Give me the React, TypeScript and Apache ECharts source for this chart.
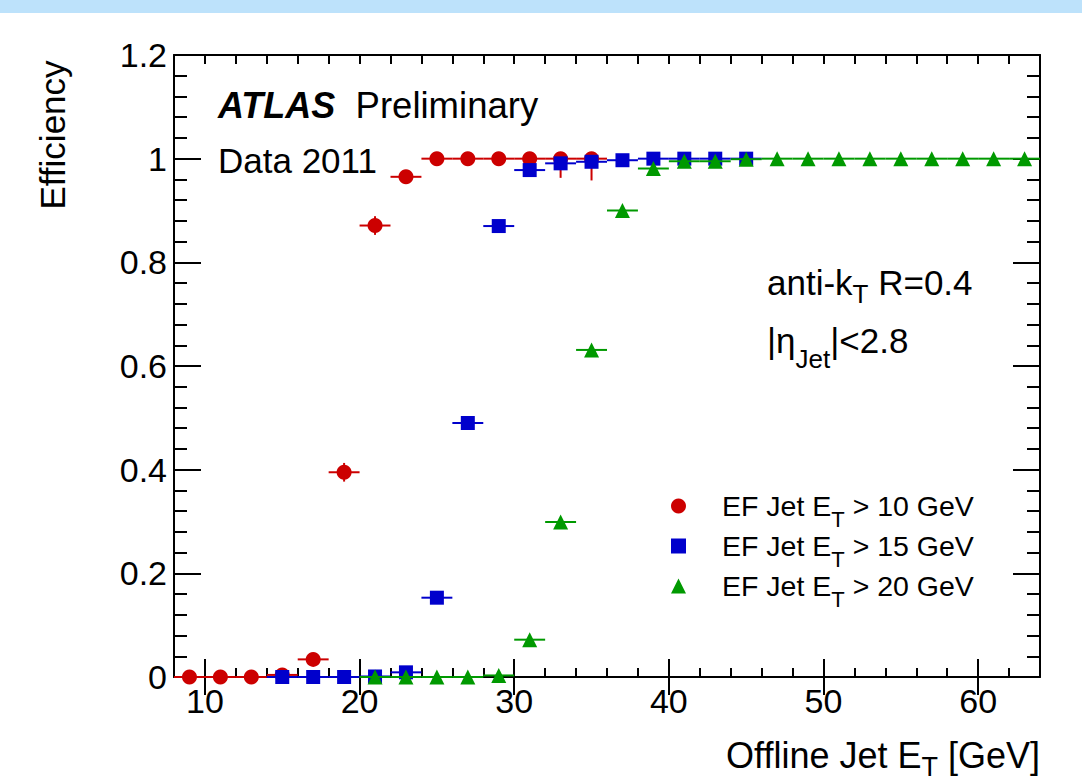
import React, { useEffect, useRef } from "react";
import * as echarts from "echarts";

// ---------------- data ----------------
const seriesNames = ["EF Jet ET > 10 GeV", "EF Jet ET > 15 GeV", "EF Jet ET > 20 GeV"];
const legendLabels = [
  "EF Jet E{sub|T} > 10 GeV",
  "EF Jet E{sub|T} > 15 GeV",
  "EF Jet E{sub|T} > 20 GeV",
];
const binHalfWidth = 1;

const xRed = [9, 11, 13, 15, 17, 19, 21, 23, 25, 27, 29, 31, 33, 35];
const effRed = [0, 0, 0, 0.004, 0.034, 0.395, 0.871, 0.965, 1, 1, 1, 1, 1, 1];
const errRedLow = [0, 0, 0, 0.003, 0.006, 0.018, 0.018, 0.006, 0, 0, 0, 0, 0.037, 0.042];
const errRedHigh = [0, 0, 0, 0.003, 0.006, 0.018, 0.018, 0.006, 0, 0, 0, 0, 0, 0];

const xBlue = [15, 17, 19, 21, 23, 25, 27, 29, 31, 33, 35, 37, 39, 41, 43, 45];
const effBlue = [0, 0, 0, 0.001, 0.009, 0.153, 0.49, 0.87, 0.978, 0.991, 0.994, 0.997, 1, 1, 1, 1];
const errBlueLow = [0, 0, 0, 0.001, 0.004, 0.006, 0.008, 0.007, 0.004, 0.003, 0.003, 0.002, 0, 0, 0, 0];
const errBlueHigh = [0, 0, 0, 0.001, 0.004, 0.006, 0.008, 0.007, 0.004, 0.003, 0.003, 0.002, 0, 0, 0, 0];

const xGreen = [21, 23, 25, 27, 29, 31, 33, 35, 37, 39, 41, 43, 45, 47, 49, 51, 53, 55, 57, 59, 61, 63];
const effGreen = [0, 0, 0, 0, 0.003, 0.072, 0.299, 0.631, 0.9, 0.981, 0.995, 0.995, 0.999, 1, 1, 1, 1, 1, 1, 1, 1, 1];
const errGreenLow = [0, 0, 0, 0, 0.002, 0.004, 0.006, 0.006, 0.004, 0.003, 0.002, 0.002, 0.001, 0, 0, 0, 0, 0, 0, 0, 0, 0];
const errGreenHigh = [0, 0, 0, 0, 0.002, 0.004, 0.006, 0.006, 0.004, 0.003, 0.002, 0.002, 0.001, 0, 0, 0, 0, 0, 0, 0, 0, 0];

const xMajorTicks = [10, 20, 30, 40, 50, 60];
const xMin = 8;
const xMax = 64;
const yMin = 0;
const yMax = 1.2;

// ---------------- styles ----------------
const FONT = '"Liberation Sans", Arial, Helvetica, sans-serif';
const RED = "#cc0000";
const BLUE = "#0000cc";
const GREEN = "#009900";

function errorSeries(xs: number[], ys: number[], lo: number[], hi: number[], color: string, z: number) {
  return {
    type: "custom",
    xAxisIndex: 0,
    yAxisIndex: 0,
    clip: false,
    silent: true,
    z,
    encode: { x: 0, y: 1 },
    data: xs.map((x, i) => [x, ys[i], lo[i], hi[i]]),
    renderItem: (_p: any, api: any) => {
      const x = api.value(0);
      const y = api.value(1);
      const l = api.value(2);
      const h = api.value(3);
      const a = api.coord([x - binHalfWidth, y]);
      const b = api.coord([x + binHalfWidth, y]);
      const c = api.coord([x, y - l]);
      const d = api.coord([x, y + h]);
      const style = { stroke: color, lineWidth: 2 };
      return {
        type: "group",
        children: [
          { type: "line", shape: { x1: a[0], y1: a[1], x2: b[0], y2: b[1] }, style },
          { type: "line", shape: { x1: c[0], y1: c[1], x2: d[0], y2: d[1] }, style },
        ],
      };
    },
  };
}

function scatterSeries(name: string, xs: number[], ys: number[], symbol: string, size: number, color: string, z: number) {
  return {
    type: "scatter",
    name,
    xAxisIndex: 0,
    yAxisIndex: 0,
    symbol,
    symbolSize: size,
    itemStyle: { color, opacity: 1 },
    z,
    silent: true,
    data: xs.map((x, i) => [x, ys[i]]),
  };
}

const axisLineStyle = { color: "#000", width: 2 };

export default function App() {
  const ref = useRef<HTMLDivElement>(null);
  useEffect(() => {
    if (!ref.current) return;
    const chart = echarts.init(ref.current, null, { renderer: "svg" });
    const baseX = {
      type: "value",
      min: xMin,
      max: xMax,
      gridIndex: 0,
      splitLine: { show: false },
    };
    const baseY = {
      type: "value",
      min: yMin,
      max: yMax,
      interval: 0.2,
      gridIndex: 0,
      splitLine: { show: false },
      axisLine: { show: true, onZero: false, lineStyle: axisLineStyle },
      axisTick: { show: true, inside: true, length: 27, lineStyle: axisLineStyle },
      minorTick: { show: true, splitNumber: 5, length: 13, lineStyle: { color: "#000", width: 2 } },
    };
    chart.setOption({
      animation: false,
      backgroundColor: "#ffffff",
      grid: { left: 174, top: 55, width: 866, height: 622, outerBoundsMode: "none", containLabel: false },
      xAxis: [
        {
          ...baseX,
          position: "bottom",
          interval: 2,
          axisLine: { show: true, onZero: false, lineStyle: axisLineStyle },
          axisTick: { show: true, inside: true, length: 9, lineStyle: axisLineStyle },
          axisLabel: {
            show: true,
            customValues: xMajorTicks,
            fontFamily: FONT,
            fontSize: 34,
            color: "#000",
            margin: 7,
          },
        },
        {
          ...baseX,
          position: "bottom",
          axisLine: { show: false },
          axisTick: { show: true, inside: true, length: 18, customValues: xMajorTicks, lineStyle: axisLineStyle },
          axisLabel: { show: false },
        },
        {
          ...baseX,
          position: "top",
          interval: 2,
          axisLine: { show: true, onZero: false, lineStyle: axisLineStyle },
          axisTick: { show: true, inside: true, length: 9, lineStyle: axisLineStyle },
          axisLabel: { show: false },
        },
        {
          ...baseX,
          position: "top",
          axisLine: { show: false },
          axisTick: { show: true, inside: true, length: 18, customValues: xMajorTicks, lineStyle: axisLineStyle },
          axisLabel: { show: false },
        },
      ],
      yAxis: [
        {
          ...baseY,
          position: "left",
          axisLabel: { show: true, fontFamily: FONT, fontSize: 34, color: "#000", margin: 7 },
        },
        {
          ...baseY,
          position: "right",
          axisLabel: { show: false },
        },
      ],
      legend: {
        orient: "vertical",
        left: 666,
        top: 477,
        itemWidth: 15,
        itemHeight: 15,
        itemGap: -8,
        selectedMode: false,
        data: [
          { name: seriesNames[0], icon: "circle" },
          { name: seriesNames[1], icon: "rect" },
          { name: seriesNames[2], icon: "triangle" },
        ],
        formatter: (n: string) => legendLabels[seriesNames.indexOf(n)],
        textStyle: {
          fontFamily: FONT,
          fontSize: 28.5,
          lineHeight: 34,
          color: "#000",
          padding: [0, 0, 0, 31],
          rich: {
            sub: { fontFamily: FONT, fontSize: 22, lineHeight: 4, color: "#000", padding: [26, 0, 0, 0] },
          },
        },
      },
      series: [
        errorSeries(xRed, effRed, errRedLow, errRedHigh, RED, 2),
        scatterSeries(seriesNames[0], xRed, effRed, "circle", 15, RED, 3),
        errorSeries(xBlue, effBlue, errBlueLow, errBlueHigh, BLUE, 4),
        scatterSeries(seriesNames[1], xBlue, effBlue, "rect", 14, BLUE, 5),
        errorSeries(xGreen, effGreen, errGreenLow, errGreenHigh, GREEN, 6),
        scatterSeries(seriesNames[2], xGreen, effGreen, "triangle", 15, GREEN, 7),
      ],
      graphic: [
        { type: "rect", left: 0, top: 0, shape: { x: 0, y: 0, width: 1082, height: 13 }, style: { fill: "#bde2fb" }, silent: true },
        {
          type: "text",
          x: 52,
          y: 135,
          rotation: Math.PI / 2,
          style: { text: "Efficiency", fontFamily: FONT, fontSize: 35, fill: "#000", align: "center", verticalAlign: "middle" },
        },
        {
          type: "text",
          x: 1040,
          y: 755,
          style: {
            text: "Offline Jet E{sub|T} [GeV]",
            fontFamily: FONT,
            fontSize: 36,
            fill: "#000",
            align: "right",
            verticalAlign: "middle",
            rich: { sub: { fontFamily: FONT, fontSize: 27, lineHeight: 4, fill: "#000", padding: [24, 0, 0, 0] } },
          },
        },
        {
          type: "text",
          x: 218,
          y: 105,
          style: {
            text: "{b|ATLAS}  Preliminary",
            fontFamily: FONT,
            fontSize: 36.5,
            fill: "#000",
            align: "left",
            verticalAlign: "middle",
            rich: { b: { fontFamily: FONT, fontSize: 36, fontWeight: "bold", fontStyle: "italic", fill: "#000" } },
          },
        },
        {
          type: "text",
          x: 218,
          y: 160,
          style: { text: "Data 2011", fontFamily: FONT, fontSize: 35, fill: "#000", align: "left", verticalAlign: "middle" },
        },
        {
          type: "text",
          x: 767,
          y: 282,
          style: {
            text: "anti-k{sub|T} R=0.4",
            fontFamily: FONT,
            fontSize: 35,
            fill: "#000",
            align: "left",
            verticalAlign: "middle",
            rich: { sub: { fontFamily: FONT, fontSize: 26, lineHeight: 4, fill: "#000", padding: [24, 0, 0, 0] } },
          },
        },
        {
          type: "text",
          x: 767,
          y: 340,
          style: {
            text: "|η{sub|Jet}|<2.8",
            fontFamily: FONT,
            fontSize: 35,
            fill: "#000",
            align: "left",
            verticalAlign: "middle",
            rich: { sub: { fontFamily: FONT, fontSize: 26, lineHeight: 4, fill: "#000", padding: [38, 0, 0, 0] } },
          },
        },
      ],
    });
    return () => chart.dispose();
  }, []);
  return <div ref={ref} style={{ position: "fixed", left: 0, top: 0, width: 1082, height: 783, background: "#fff" }} />;
}
